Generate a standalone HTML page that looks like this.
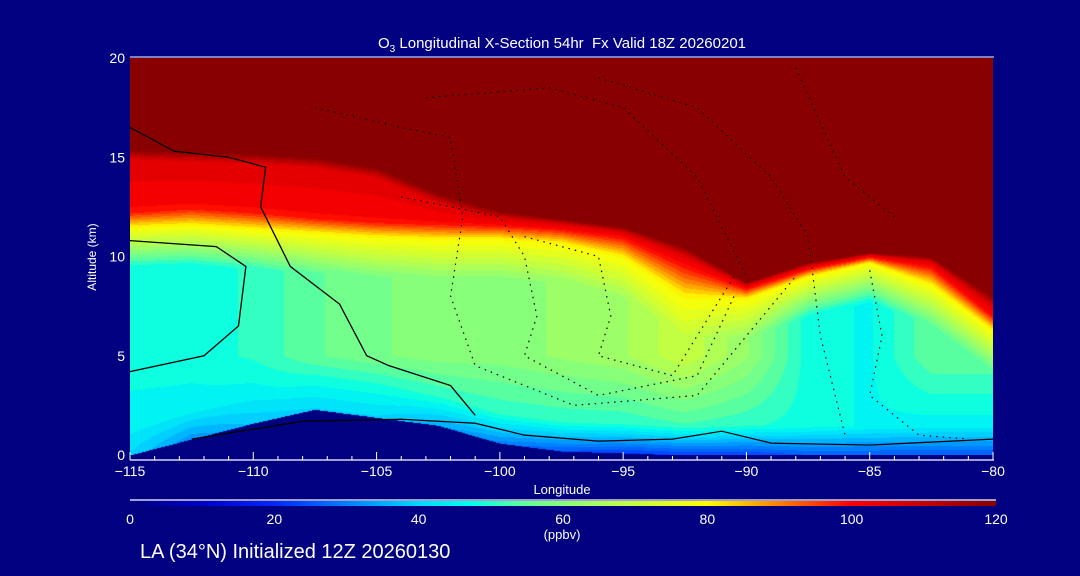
<!DOCTYPE html>
<html><head><meta charset="utf-8">
<style>
html,body{margin:0;padding:0;background:#000080;}
#wrap{position:relative;width:1080px;height:576px;background:#000080;overflow:hidden;font-family:"Liberation Sans",sans-serif;color:#fff;}
.t{position:absolute;white-space:nowrap;color:#fff;}
canvas{position:absolute;}
svg{position:absolute;left:0;top:0;}
</style></head>
<body>
<div id="wrap">
<div class="t" style="left:0;width:1124px;text-align:center;top:35px;font-size:15px;">O<sub style="font-size:10px">3</sub> Longitudinal X-Section 54hr&nbsp; Fx Valid 18Z 20260201</div>
<canvas id="cv" width="863" height="397" style="left:130px;top:58px"></canvas>
<svg id="sv" width="1080" height="576"></svg>
<div class="t" style="left:50px;top:250px;font-size:12px;transform:rotate(-90deg);width:84px;text-align:center;">Altitude (km)</div>
<div class="t" style="left:512px;width:100px;text-align:center;top:482px;font-size:13px;">Longitude</div>
<canvas id="cb" width="866" height="5" style="left:130px;top:501px"></canvas>
<div class="t" style="left:512px;width:100px;text-align:center;top:527px;font-size:13px;">(ppbv)</div>
<div class="t" style="left:140px;top:541px;font-size:20px;">LA (34°N) Initialized 12Z 20260130</div>
</div>
<script>
const lons=[-115,-112.5,-110,-107.5,-105,-102.5,-100,-97.5,-95,-92.5,-90,-87.5,-85,-82.5,-80];
const h80=[11.5,11.6,11.4,11.2,11.0,10.9,10.9,10.7,10.0,8.0,7.9,9.0,9.7,8.6,6.3];
const h100=[12.3,12.5,12.3,12.0,11.8,11.7,11.6,11.4,11.0,9.6,8.4,9.4,10.0,9.5,7.0];
const h120=[15.4,15.3,15.2,15.0,14.5,13.2,12.3,11.9,11.5,10.5,8.7,9.7,10.2,10.0,8.0];
const midVal=[48,48,50,55,58,60,60,62,64,70,62,48,46,55,55];
const lowVal=[45,45,45,48,48,50,50,50,50,52,50,48,46,45,45];
const surfVal=[40,32,38,40,40,35,30,25,22,22,22,25,25,25,25];
const terrain=[0,0.8,1.6,2.3,1.9,1.5,0.6,0.2,0.1,0,0,0,0,0,0];
const xTicks=[-115,-110,-105,-100,-95,-90,-85,-80];
const yTicks=[0,5,10,15,20];
const cbTicks=[0,20,40,60,80,100,120];

const X0=130,X1=993,Y0=455,Y1=58;
const xs=l=>X0+(l+115)/35*(X1-X0);
const ys=z=>Y0-z/20*(Y0-Y1);
const stops=[[0,[0,0,128]],[10,[0,0,200]],[20,[0,40,255]],[30,[0,128,255]],[40,[0,216,255]],[47,[0,255,235]],[55,[100,255,150]],[62,[150,255,110]],[70,[200,255,60]],[80,[255,255,0]],[90,[255,128,0]],[100,[255,0,0]],[110,[200,0,0]],[120,[136,0,0]]];
function col(v){v=Math.max(0,Math.min(120,v));for(let i=1;i<stops.length;i++){if(v<=stops[i][0]){const a=stops[i-1],b=stops[i],f=(v-a[0])/(b[0]-a[0]);return a[1].map((c,k)=>Math.round(c+(b[1][k]-c)*f));}}return stops[stops.length-1][1];}
function interp(arr,l){let i=0;while(i<lons.length-2&&l>lons[i+1])i++;const f=(l-lons[i])/(lons[i+1]-lons[i]);return arr[i]+(arr[i+1]-arr[i])*f;}
const lerp=(a,b,f)=>a+(b-a)*Math.max(0,Math.min(1,f));
function val(l,z){
 const t=interp(terrain,l);if(z<t)return -1;
 const a=interp(h80,l),b=interp(h100,l),c=interp(h120,l),m=interp(midVal,l),lo=interp(lowVal,l),s=interp(surfVal,l);
 if(z>=c)return 120;
 const w=Math.min(0.5,(c-b)/2),cm=c-w;
 if(z>=cm)return lerp(106,120,(z-cm)/w);
 if(z>=b)return lerp(100,106,(z-b)/Math.max(0.01,cm-b));
 if(z>=a)return lerp(80,100,(z-a)/(b-a));
 if(z>=a-2)return lerp(m,80,(z-(a-2))/2);
 if(z>=5)return m;
 if(z>=t+1.5)return lerp(lo,m,(z-t-1.5)/Math.max(0.1,5-t-1.5));
 return lerp(s,lo,(z-t)/1.5);
}
const cv=document.getElementById('cv'),ctx=cv.getContext('2d');
const img=ctx.createImageData(cv.width,cv.height);
for(let py=0;py<cv.height;py++){const z=(Y0-(py+Y1))/(Y0-Y1)*20;
 for(let px=0;px<cv.width;px++){const l=-115+(px+0.5)/(X1-X0)*35;const v=val(l,z);const c=v<0?[0,0,128]:col(Math.round(v/3)*3);const k=(py*cv.width+px)*4;img.data[k]=c[0];img.data[k+1]=c[1];img.data[k+2]=c[2];img.data[k+3]=255;}}
ctx.putImageData(img,0,0);
const cb=document.getElementById('cb'),cc=cb.getContext('2d');
for(let px=0;px<cb.width;px++){const c=col(px/(cb.width-1)*120);cc.fillStyle=`rgb(${c})`;cc.fillRect(px,0,1,5);}

const NS='http://www.w3.org/2000/svg',sv=document.getElementById('sv');
function mk(tag,attrs,name){const e=document.createElementNS(NS,tag);for(const k in attrs)e.setAttribute(k,attrs[k]);


sv.appendChild(e);return e;}
const c0lon=[-115,-113.2,-111,-109.5,-109.7,-108.5,-106.5,-105.4,-104.5,-102,-101];
const c0alt=[16.5,15.3,15.0,14.5,12.5,9.5,7.6,5.0,4.5,3.5,2.0];
let d='';c0lon.forEach((l,i)=>{d+=(i?'L':'M')+xs(l)+','+ys(c0alt[i]);});
mk('path',{d:d,fill:'none',stroke:'#000','stroke-width':1.3},'contour-zero');
const c1lon=[-115,-111.5,-110.3,-110.6,-112,-115];
const c1alt=[10.8,10.5,9.5,6.5,5.0,4.2];
d='';c1lon.forEach((l,i)=>{d+=(i?'L':'M')+xs(l)+','+ys(c1alt[i]);});
mk('path',{d:d,fill:'none',stroke:'#000','stroke-width':1.3},'contour-ten');
const c2lon=[-112.5,-108,-104,-101,-99,-96,-93,-91,-89,-85,-80];
const c2alt=[0.8,1.7,1.8,1.6,1.0,0.7,0.8,1.2,0.6,0.5,0.8];
d='';c2lon.forEach((l,i)=>{d+=(i?'L':'M')+xs(l)+','+ys(c2alt[i]);});
mk('path',{d:d,fill:'none',stroke:'#000','stroke-width':1.2},'contour-surface');
const dashedSets=[
 {lon:[-107.5,-104,-102,-101.5,-102,-101,-97,-92,-90,-88],alt:[17.5,16.5,16.0,12,8,4.5,2.5,3,6,9]},
 {lon:[-104,-100,-99,-98.5,-99,-96,-92,-90.5],alt:[13,12,10,7,5,3,4,8]},
 {lon:[-99,-96,-95.5,-96,-93,-90.5],alt:[11,10,7,5,4,9]},
 {lon:[-103,-98,-95,-92,-90],alt:[18,18.5,17.5,14,9]},
 {lon:[-96,-92,-89,-87.5,-87,-86],alt:[19,17.5,14,11,6,1]},
 {lon:[-85,-84.5,-85,-83,-81],alt:[9.3,6,3,1,0.8]},
 {lon:[-88,-86,-84],alt:[19.5,14,12]}
];
dashedSets.forEach((s,j)=>{let dd='';s.lon.forEach((l,i)=>{dd+=(i?'L':'M')+xs(l)+','+ys(s.alt[i]);});
 mk('path',{d:dd,fill:'none',stroke:'#000','stroke-width':1.2,'stroke-dasharray':'1.5,5'},'contour-negative-'+j);});
mk('line',{x1:X0,y1:57,x2:X1+1,y2:57,stroke:'#fff','stroke-width':1},'top-axis');
mk('line',{x1:X0,y1:460,x2:X1+1,y2:460,stroke:'#fff','stroke-width':1.3},'x-axis');
mk('line',{x1:130,y1:500,x2:996,y2:500,stroke:'#fff','stroke-width':1.3},'colorbar-frame');
for(let l=-115;l<=-80;l++){const maj=(l%5===0);
 mk('line',{x1:xs(l),y1:460,x2:xs(l),y2:maj?452:456,stroke:'#fff','stroke-width':1},'x-tick');}
xTicks.forEach(l=>{const t=mk('text',{x:xs(l),y:476,fill:'#fff','font-size':14,'text-anchor':'middle','font-family':'Liberation Sans'},'x-tick-label');t.textContent=String(l).replace('-','\u2212');});
yTicks.forEach(z=>{const t=mk('text',{x:125,y:ys(z)+5,fill:'#fff','font-size':14,'text-anchor':'end','font-family':'Liberation Sans'},'y-tick-label');t.textContent=z;});
cbTicks.forEach(v=>{const t=mk('text',{x:130+v/120*866,y:524,fill:'#fff','font-size':14,'text-anchor':'middle','font-family':'Liberation Sans'},'colorbar-tick-label');t.textContent=v;});
</script>
</body></html>
